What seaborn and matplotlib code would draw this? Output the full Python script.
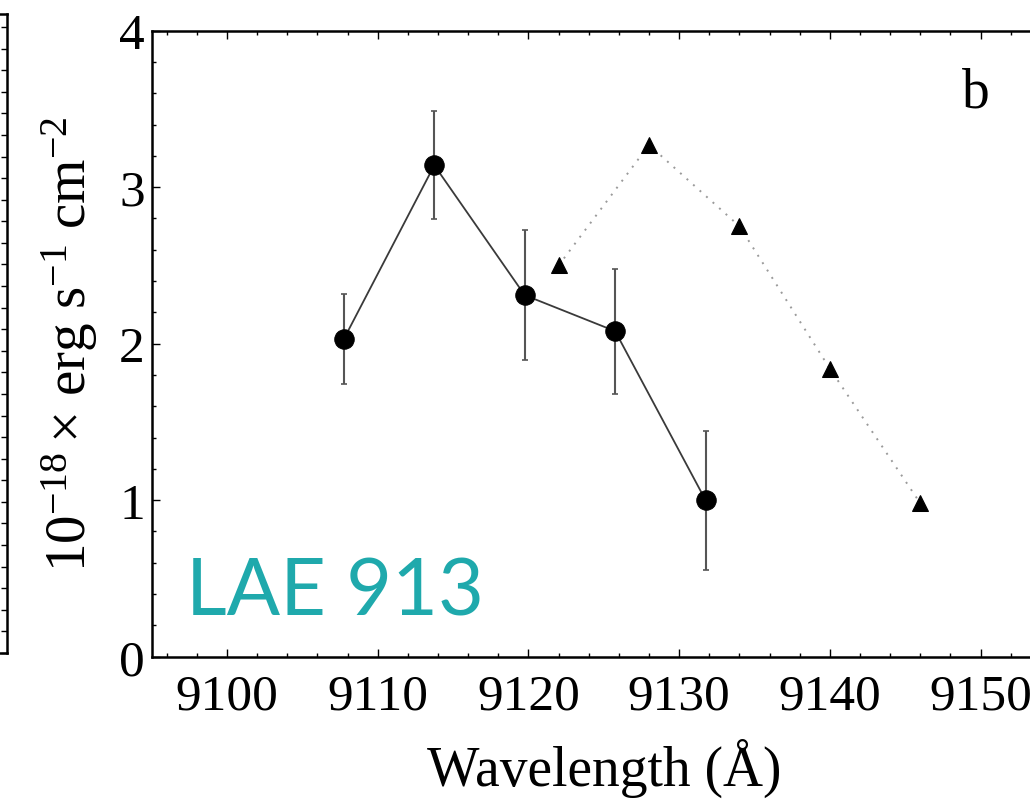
import matplotlib.pyplot as plt
import pandas as pd
import seaborn as sns
from matplotlib.ticker import MultipleLocator

# observed Lya profile (circles with error bars)
wl_obs = [9107.75, 9113.75, 9119.75, 9125.75, 9131.75]
flux_obs = [2.03, 3.14, 2.31, 2.08, 1.00]
err_obs = [0.285, 0.345, 0.415, 0.40, 0.445]

# comparison profile (triangles, dotted)
wl_cmp = [9122, 9128, 9134, 9140, 9146]
flux_cmp = [2.50, 3.27, 2.75, 1.84, 0.98]

x_ticks = [9100, 9110, 9120, 9130, 9140, 9150]
y_ticks = [0, 1, 2, 3, 4]

sns.set_style("ticks")
plt.rcParams['font.family'] = ['Liberation Serif', 'DejaVu Serif']
plt.rcParams['mathtext.fontset'] = 'custom'
plt.rcParams['mathtext.rm'] = 'Liberation Serif'
plt.rcParams['mathtext.it'] = 'Liberation Serif:italic'
plt.rcParams['text.color'] = 'black'
plt.rcParams['axes.labelcolor'] = 'black'
plt.rcParams['xtick.color'] = 'black'
plt.rcParams['ytick.color'] = 'black'
plt.rcParams['axes.edgecolor'] = 'black'

obs = pd.DataFrame({'wl': wl_obs, 'flux': flux_obs, 'err': err_obs})
cmp_df = pd.DataFrame({'wl': wl_cmp, 'flux': flux_cmp})

fig = plt.figure(figsize=(10.30, 8.04), dpi=100)

# edge of the neighbouring panel (a), mostly off the figure
axl = fig.add_axes([-0.5, 0.1866, 0.5068, 0.7947])
axl.set_xlim(0, 1)
axl.set_ylim(0, 29.6)
axl.yaxis.tick_right()
axl.yaxis.set_major_locator(MultipleLocator(1))
axl.tick_params(axis='y', direction='in', length=4, width=1, labelright=False)
axl.set_xticks([])
for s in axl.spines.values():
    s.set_linewidth(1.8)

ax = fig.add_axes([0.1473, 0.182, 0.8779, 0.7786])

ax.errorbar(obs['wl'], obs['flux'], yerr=obs['err'], fmt='none',
            ecolor='#555555', elinewidth=1.5, capsize=2.5, capthick=1.2, zorder=2)
sns.lineplot(data=obs, x='wl', y='flux', ax=ax, color='#3a3a3a', linewidth=1.3,
             marker='o', markersize=14, markerfacecolor='black',
             markeredgecolor='black', zorder=3)
sns.lineplot(data=cmp_df, x='wl', y='flux', ax=ax, color='#9a9a9a', linewidth=1.4,
             linestyle=(0, (1, 3.5)), marker='^', markersize=12,
             markerfacecolor='black', markeredgecolor='black', zorder=3)

ax.set_xlim(9095, 9155)
ax.set_ylim(0, 4)
ax.set_xticks(x_ticks)
ax.set_yticks(y_ticks)
ax.xaxis.set_minor_locator(MultipleLocator(2))
ax.yaxis.set_minor_locator(MultipleLocator(0.2))
ax.tick_params(which='both', direction='in', top=True, right=True, width=1)
ax.tick_params(which='major', length=6, labelsize=37)
ax.tick_params(axis='x', which='major', pad=12)
ax.tick_params(axis='y', which='major', pad=5)
ax.tick_params(which='minor', length=3)
for s in ax.spines.values():
    s.set_linewidth(1.8)

ax.set_xlabel('Wavelength (Å)', fontsize=40, labelpad=13)
ax.set_ylabel(r'$10^{-18}\times\,\mathrm{erg\ s^{-1}\ cm^{-2}}$', fontsize=41)
ax.yaxis.set_label_coords(-0.057, 0.5)

ax.text(0.9116, 0.879, 'b', transform=ax.transAxes, fontsize=40,
        ha='center', va='baseline')
ax.text(0.038, 0.068, 'LAE 913', transform=ax.transAxes, fontsize=57,
        family=['Lato', 'DejaVu Sans'], fontweight='normal', color='#1fa9ac',
        ha='left', va='baseline')

plt.savefig('out.png', dpi=100)
